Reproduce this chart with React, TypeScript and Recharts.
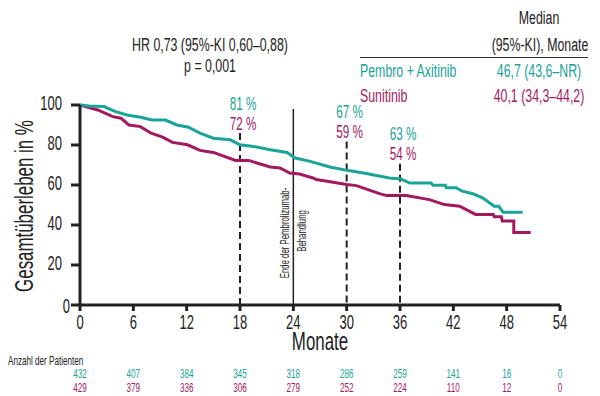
import React from 'react';
import { LineChart, Line, XAxis, YAxis, ReferenceLine } from 'recharts';

const TEAL = '#1aa398';
const MAG = '#a3195f';
const INK = '#222222';
const FONT = "'Liberation Sans', Arial, sans-serif";
const SX = 0.65;

// Kaplan-Meier curves (months, overall survival %)
const pembroMonths = [0, 1, 2.7, 4, 5.3, 6.8, 8.1, 9.6, 10.9, 12.2, 13.5, 15, 16.9, 18, 19.5, 21.4, 23.3, 24.2, 25.9, 28.1, 30.2, 32.2, 34.8, 36.1, 37.1, 39.5, 39.7, 41.1, 41.2, 42.3, 43, 44.2, 45.3, 46.6, 47.1, 47.6, 49.8];
const pembroValues = [100, 99.5, 99.2, 96.7, 95, 93.9, 92.5, 92.5, 90, 88.9, 85.9, 83.4, 82.6, 80.1, 79.3, 77.6, 76.3, 73.5, 71.8, 69, 67.2, 65.7, 63.5, 63, 61, 61, 59.9, 59.9, 58.6, 58.6, 56.9, 55.6, 53.6, 49.4, 49.4, 46.4, 46.4];

const suniMonths = [0, 2, 3.7, 4.6, 5.5, 6.8, 8, 9.3, 10.4, 12.1, 13.5, 15, 17.5, 19, 19.9, 21.4, 22.5, 23.6, 24.7, 26.2, 26.6, 30, 31.1, 33.7, 34.5, 36.7, 39.3, 41, 42.7, 44.5, 46.5, 46.6, 47.4, 47.5, 48.8, 48.8, 50.7];
const suniValues = [100, 97.5, 94.2, 93.4, 90, 89.2, 85.9, 83.9, 81.3, 80.1, 77.3, 76.3, 72.3, 72.3, 71, 69, 68.5, 66, 65.5, 63.5, 62.7, 60.2, 59.7, 55.7, 54.7, 54.7, 52.7, 50.2, 49.4, 45.3, 45.3, 44.1, 44.1, 42, 42, 36.2, 36.2];

const xTicks = [0, 6, 12, 18, 24, 30, 36, 42, 48, 54];
const yTicks = [0, 20, 40, 60, 80, 100];

const pembroRisk = [432, 407, 384, 345, 318, 286, 259, 141, 16, 0];
const suniRisk = [429, 379, 336, 306, 279, 252, 224, 110, 12, 0];

const landmarkMonths = [18, 30, 36];
const pembroLandmark = [81, 67, 63];
const suniLandmark = [72, 59, 54];
const landmarkLineTop = [86, 81.7, 70.6];
const endOfTreatmentMonth = 24;
const endOfTreatmentTop = 98;

const pembroData = pembroMonths.map((m, i) => ({ m, v: pembroValues[i] }));
const suniData = suniMonths.map((m, i) => ({ m, v: suniValues[i] }));

type CTProps = {
  x: number; y: number; size: number; anchor?: 'start' | 'middle' | 'end';
  fill?: string; rotate?: number; sx?: number; children?: React.ReactNode;
};
const CT = ({ x, y, size, anchor = 'middle', fill = INK, rotate = 0, sx = SX, children }: CTProps) => (
  <text
    transform={`translate(${x},${y})${rotate ? ` rotate(${rotate})` : ''} scale(${sx},1)`}
    fontSize={size}
    textAnchor={anchor}
    fill={fill}
    fontFamily={FONT}
  >
    {children}
  </text>
);

const XTick = (props: any) => {
  const { x, y, payload } = props;
  const i = xTicks.indexOf(payload.value);
  return (
    <g>
      <CT x={x} y={y + 18} size={20}>{payload.value}</CT>
      <CT x={x} y={y + 67} size={12.5} fill={TEAL}>{pembroRisk[i]}</CT>
      <CT x={x} y={y + 81} size={12.5} fill={MAG}>{suniRisk[i]}</CT>
    </g>
  );
};

const YTick = (props: any) => {
  const { x, y, payload } = props;
  if (payload.value === 0) {
    return <CT x={x + 8} y={y + 8} size={20} anchor="end">{payload.value}</CT>;
  }
  return <CT x={x} y={y + 5} size={20} anchor="end">{payload.value}</CT>;
};

const landmarkLabel = (i: number) => (props: any) => {
  const vb = props.viewBox || {};
  return (
    <g>
      <CT x={vb.x + 3} y={vb.y - 23.5} size={18} fill={TEAL}>{`${pembroLandmark[i]} %`}</CT>
      <CT x={vb.x + 3} y={vb.y - 3.5} size={18} fill={MAG}>{`${suniLandmark[i]} %`}</CT>
    </g>
  );
};

const treatmentLabel = (props: any) => {
  const vb = props.viewBox || {};
  return (
    <g>
      <CT x={vb.x - 4.5} y={vb.y + 124} size={12} rotate={-90}>Ende der Pembrolizumab-</CT>
      <CT x={vb.x + 12.5} y={vb.y + 122} size={12} rotate={-90}>Behandlung</CT>
    </g>
  );
};

export default function App() {
  return (
    <div style={{ position: 'absolute', left: 0, top: 0, width: 600, height: 396, background: '#fff' }}>
      <LineChart width={600} height={396} margin={{ top: 105, right: 40, bottom: 0, left: 0 }}>
        <XAxis
          dataKey="m"
          type="number"
          domain={[0, 54]}
          ticks={xTicks}
          height={91}
          tickSize={6}
          tickMargin={0}
          axisLine={{ stroke: INK, strokeWidth: 3 }}
          tickLine={{ stroke: INK, strokeWidth: 3 }}
          tick={<XTick />}
          interval={0}
        />
        <YAxis
          dataKey="v"
          type="number"
          domain={[0, 100]}
          ticks={yTicks}
          width={80}
          tickSize={9}
          tickMargin={9}
          axisLine={{ stroke: INK, strokeWidth: 3 }}
          tickLine={{ stroke: INK, strokeWidth: 3 }}
          tick={<YTick />}
          interval={0}
        />
        {landmarkMonths.map((m, i) => (
          <ReferenceLine
            key={m}
            segment={[{ x: m, y: landmarkLineTop[i] }, { x: m, y: 0 }]}
            stroke={INK}
            strokeWidth={2}
            strokeDasharray="7 4"
            label={landmarkLabel(i)}
          />
        ))}
        <ReferenceLine
          segment={[{ x: endOfTreatmentMonth, y: endOfTreatmentTop }, { x: endOfTreatmentMonth, y: 0 }]}
          stroke={INK}
          strokeWidth={1.5}
          label={treatmentLabel}
        />
        <Line data={suniData} dataKey="v" type="linear" stroke={MAG} strokeWidth={3} dot={false} isAnimationActive={false} />
        <Line data={pembroData} dataKey="v" type="linear" stroke={TEAL} strokeWidth={3} dot={false} isAnimationActive={false} />
      </LineChart>
      <svg width={600} height={396} style={{ position: 'absolute', left: 0, top: 0, pointerEvents: 'none' }}>
        <CT x={210} y={51} size={19}>HR 0,73 (95%-KI 0,60–0,88)</CT>
        <CT x={210} y={72} size={19}>p = 0,001</CT>
        <CT x={539} y={24} size={19}>Median</CT>
        <CT x={540} y={51} size={19}>(95%-KI), Monate</CT>
        <line x1={360} x2={588} y1={57.5} y2={57.5} stroke="#333" strokeWidth={1.2} />
        <CT x={360} y={77} size={19} anchor="start" fill={TEAL}>Pembro + Axitinib</CT>
        <CT x={539} y={77} size={19} fill={TEAL}>46,7 (43,6–NR)</CT>
        <CT x={360} y={102} size={19} anchor="start" fill={MAG}>Sunitinib</CT>
        <CT x={539} y={102} size={19} fill={MAG}>40,1 (34,3–44,2)</CT>
        <CT x={33} y={206} size={26} rotate={-90}>Gesamtüberleben in %</CT>
        <CT x={320} y={350} size={26}>Monate</CT>
        <CT x={8} y={365} size={12.5} anchor="start">Anzahl der Patienten</CT>
      </svg>
    </div>
  );
}
